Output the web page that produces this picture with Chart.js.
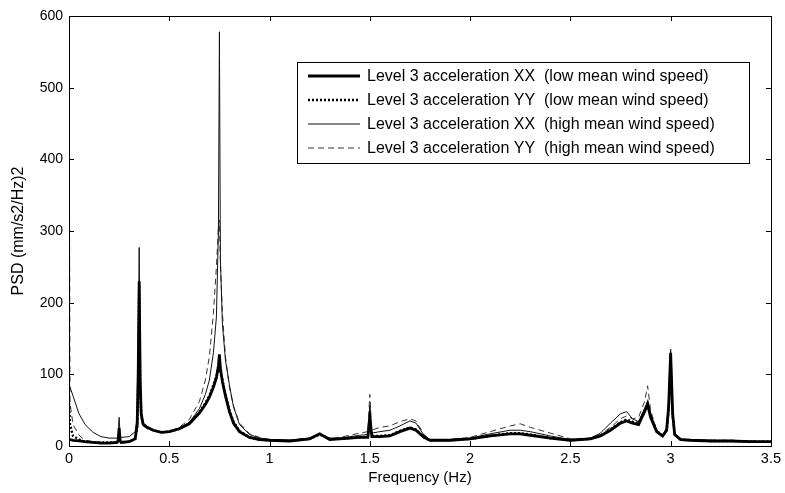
<!DOCTYPE html>
<html>
<head>
<meta charset="utf-8">
<script src="https://cdn.jsdelivr.net/npm/chart.js@4.4.0/dist/chart.umd.min.js"></script>
<style>
  body { margin: 0; background: #fff; }
  #wrap { width: 785px; height: 493px; }
</style>
</head>
<body>
<div id="wrap"><canvas id="psdChart"></canvas></div>
<script>
'use strict'

// Frequency axis (Hz), shared by the four spectra
const freq = [
  0, 0.005, 0.02, 0.05, 0.08, 0.12, 0.16, 0.2, 0.24, 0.245,
  0.25, 0.255, 0.26, 0.3, 0.33, 0.34, 0.345, 0.35, 0.355, 0.36,
  0.37, 0.39, 0.42, 0.46, 0.5, 0.55, 0.6, 0.65, 0.68, 0.7,
  0.72, 0.735, 0.745, 0.75, 0.755, 0.765, 0.78, 0.8, 0.82, 0.85,
  0.9, 0.95, 1.0, 1.1, 1.2, 1.25, 1.3, 1.35, 1.4, 1.45,
  1.49, 1.5, 1.51, 1.55, 1.6, 1.65, 1.7, 1.73, 1.77, 1.8,
  1.9, 2.0, 2.1, 2.2, 2.25, 2.3, 2.4, 2.5, 2.6, 2.65,
  2.7, 2.75, 2.78, 2.81, 2.84, 2.87, 2.885, 2.9, 2.93, 2.96,
  2.98, 2.99, 3.0, 3.01, 3.02, 3.05, 3.1, 3.2, 3.3, 3.4,
  3.5
];

// Level 3 acceleration XX, low mean wind speed
const lowXX = [
  10, 9, 8, 7, 6, 5, 4, 4, 5, 8,
  25, 8, 5, 6, 10, 30, 100, 230, 90, 45,
  30, 26, 22, 19, 20, 24, 31, 46, 58, 68,
  82, 95, 112, 128, 108, 90, 70, 48, 32, 20,
  12, 9, 8, 7, 10, 17, 9, 10, 11, 12,
  12, 40, 13, 13, 14, 20, 25, 22, 12, 8,
  8, 10, 14, 17, 17, 15, 11, 8, 10, 14,
  22, 32, 35, 32, 30, 48, 58, 40, 20, 14,
  22, 55, 130, 45, 16, 9, 8, 7, 7, 6,
  6
];

// Level 3 acceleration YY, low mean wind speed
const lowYY = [
  60, 30, 14, 9, 6, 5, 5, 5, 5, 7,
  15, 7, 5, 6, 10, 25, 90, 225, 85, 42,
  30, 26, 22, 19, 20, 24, 32, 47, 60, 70,
  85, 98, 108, 118, 102, 92, 72, 50, 34, 21,
  12, 9, 8, 7, 10, 16, 10, 10, 11, 12,
  13, 35, 14, 14, 15, 21, 26, 23, 12, 8,
  8, 10, 14, 18, 18, 16, 11, 8, 10, 14,
  23, 33, 37, 34, 32, 50, 60, 42, 21, 14,
  22, 50, 120, 42, 16, 9, 8, 7, 7, 6,
  6
];

// Level 3 acceleration XX, high mean wind speed
const highXX = [
  85, 82, 70, 45, 30, 19, 13, 11, 11, 14,
  40, 15, 12, 13, 20, 40, 120, 277, 110, 50,
  32, 27, 22, 19, 20, 25, 33, 52, 72, 92,
  130, 180, 300, 578, 260, 170, 120, 85, 55, 30,
  16, 11, 9, 8, 11, 17, 11, 11, 13, 15,
  16, 55, 18, 20, 22, 28, 35, 32, 15, 9,
  9, 11, 17, 22, 22, 20, 14, 9, 11, 18,
  32, 45, 48, 38, 34, 52, 62, 45, 22, 15,
  25, 60, 135, 50, 18, 9, 8, 8, 7, 6,
  6
];

// Level 3 acceleration YY, high mean wind speed
const highYY = [
  600, 60, 30, 15, 8, 6, 5, 5, 5, 6,
  12, 6, 5, 6, 10, 25, 90, 230, 80, 40,
  28, 24, 21, 19, 20, 26, 37, 62, 92, 125,
  185, 250, 305, 315, 255, 185, 125, 82, 56, 32,
  17, 12, 9, 8, 11, 16, 10, 12, 15, 18,
  20, 72, 22, 26, 28, 34, 38, 35, 16, 9,
  9, 12, 20, 28, 31, 26, 18, 10, 11, 16,
  26, 38, 42, 38, 40, 62, 84, 50, 22, 15,
  25, 60, 125, 48, 18, 10, 9, 8, 8, 7,
  6
];

const xTicks = { min: 0, max: 3.5, step: 0.5 };
const yTicks = { min: 0, max: 600, step: 100 };

const seriesNames = [
  'Level 3 acceleration XX  (low mean wind speed)',
  'Level 3 acceleration YY  (low mean wind speed)',
  'Level 3 acceleration XX  (high mean wind speed)',
  'Level 3 acceleration YY  (high mean wind speed)'
];

const FONT = '"Liberation Sans", Arial, sans-serif';

function toPoints(values) {
  return freq.map((f, i) => ({ x: f, y: values[i] }));
}

// MATLAB style box with inward ticks on all four sides
const boxAxes = {
  id: 'boxAxes',
  afterDatasetsDraw(chart) {
    const { ctx, chartArea: a, scales } = chart;
    ctx.save();
    ctx.strokeStyle = '#000';
    ctx.lineWidth = 1;
    ctx.beginPath();
    scales.x.ticks.forEach(t => {
      const px = Math.round(scales.x.getPixelForValue(t.value)) + 0.5;
      ctx.moveTo(px, a.bottom); ctx.lineTo(px, a.bottom - 5);
      ctx.moveTo(px, a.top); ctx.lineTo(px, a.top + 5);
    });
    scales.y.ticks.forEach(t => {
      const py = Math.round(scales.y.getPixelForValue(t.value)) + 0.5;
      ctx.moveTo(a.left, py); ctx.lineTo(a.left + 5, py);
      ctx.moveTo(a.right, py); ctx.lineTo(a.right - 5, py);
    });
    ctx.stroke();
    ctx.strokeRect(Math.round(a.left) + 0.5, Math.round(a.top) + 0.5,
      Math.round(a.right - a.left), Math.round(a.bottom - a.top));
    ctx.restore();
  }
};

// Legend box inside the plot area, upper right
const boxLegend = {
  id: 'boxLegend',
  afterDraw(chart) {
    const ctx = chart.ctx;
    const left = 297, top = 62, width = 452, height = 101;
    ctx.save();
    ctx.fillStyle = '#fff';
    ctx.fillRect(left, top, width, height);
    ctx.strokeStyle = '#000';
    ctx.lineWidth = 1;
    ctx.strokeRect(left + 0.5, top + 0.5, width, height);
    ctx.font = '16px ' + FONT;
    ctx.textBaseline = 'middle';
    ctx.fillStyle = '#000';
    chart.data.datasets.forEach((ds, i) => {
      const y = top + 14 + i * 24;
      ctx.beginPath();
      ctx.setLineDash(ds.borderDash || []);
      ctx.lineWidth = ds.borderWidth;
      ctx.strokeStyle = ds.borderColor;
      ctx.moveTo(308, y);
      ctx.lineTo(360, y);
      ctx.stroke();
      ctx.setLineDash([]);
      ctx.fillText(ds.label, 367, y + 1);
    });
    ctx.restore();
  }
};

document.addEventListener('DOMContentLoaded', function () {
  const ctx = document.getElementById('psdChart').getContext('2d');
  new Chart(ctx, {
    type: 'line',
    data: {
      datasets: [
        {
          label: seriesNames[0],
          data: toPoints(lowXX),
          borderColor: '#000',
          borderWidth: 2.8
        },
        {
          label: seriesNames[1],
          data: toPoints(lowYY),
          borderColor: '#000',
          borderWidth: 2.4,
          borderDash: [2, 2]
        },
        {
          label: seriesNames[2],
          data: toPoints(highXX),
          borderColor: '#111',
          borderWidth: 1
        },
        {
          label: seriesNames[3],
          data: toPoints(highYY),
          borderColor: '#333',
          borderWidth: 1,
          borderDash: [6, 4]
        }
      ]
    },
    options: {
      responsive: true,
      maintainAspectRatio: false,
      animation: false,
      layout: { padding: { left: 0, right: 13, top: 16, bottom: 0 } },
      elements: { point: { radius: 0 }, line: { tension: 0 } },
      plugins: { legend: { display: false }, tooltip: { enabled: false } },
      scales: {
        x: {
          type: 'linear',
          min: xTicks.min,
          max: xTicks.max,
          afterFit: s => { s.height = 47; },
          grid: { display: false, drawTicks: false },
          border: { display: false },
          ticks: {
            stepSize: xTicks.step, padding: 4, color: '#000',
            font: { family: FONT, size: 14.5 },
            callback: v => String(Number(v.toFixed(2)))
          },
          title: { display: true, text: 'Frequency (Hz)', color: '#000', padding: { top: 0, bottom: 6 }, font: { family: FONT, size: 15 } }
        },
        y: {
          min: yTicks.min,
          max: yTicks.max,
          afterFit: s => { s.width = 69; },
          grid: { display: false, drawTicks: false },
          border: { display: false },
          ticks: { stepSize: yTicks.step, padding: 6, color: '#000', font: { family: FONT, size: 14 } },
          title: { display: true, text: 'PSD (mm/s2/Hz)2', color: '#000', padding: { top: 9, bottom: 0 }, font: { family: FONT, size: 16 } }
        }
      }
    },
    plugins: [boxAxes, boxLegend]
  });
});
</script>
</body>
</html>
